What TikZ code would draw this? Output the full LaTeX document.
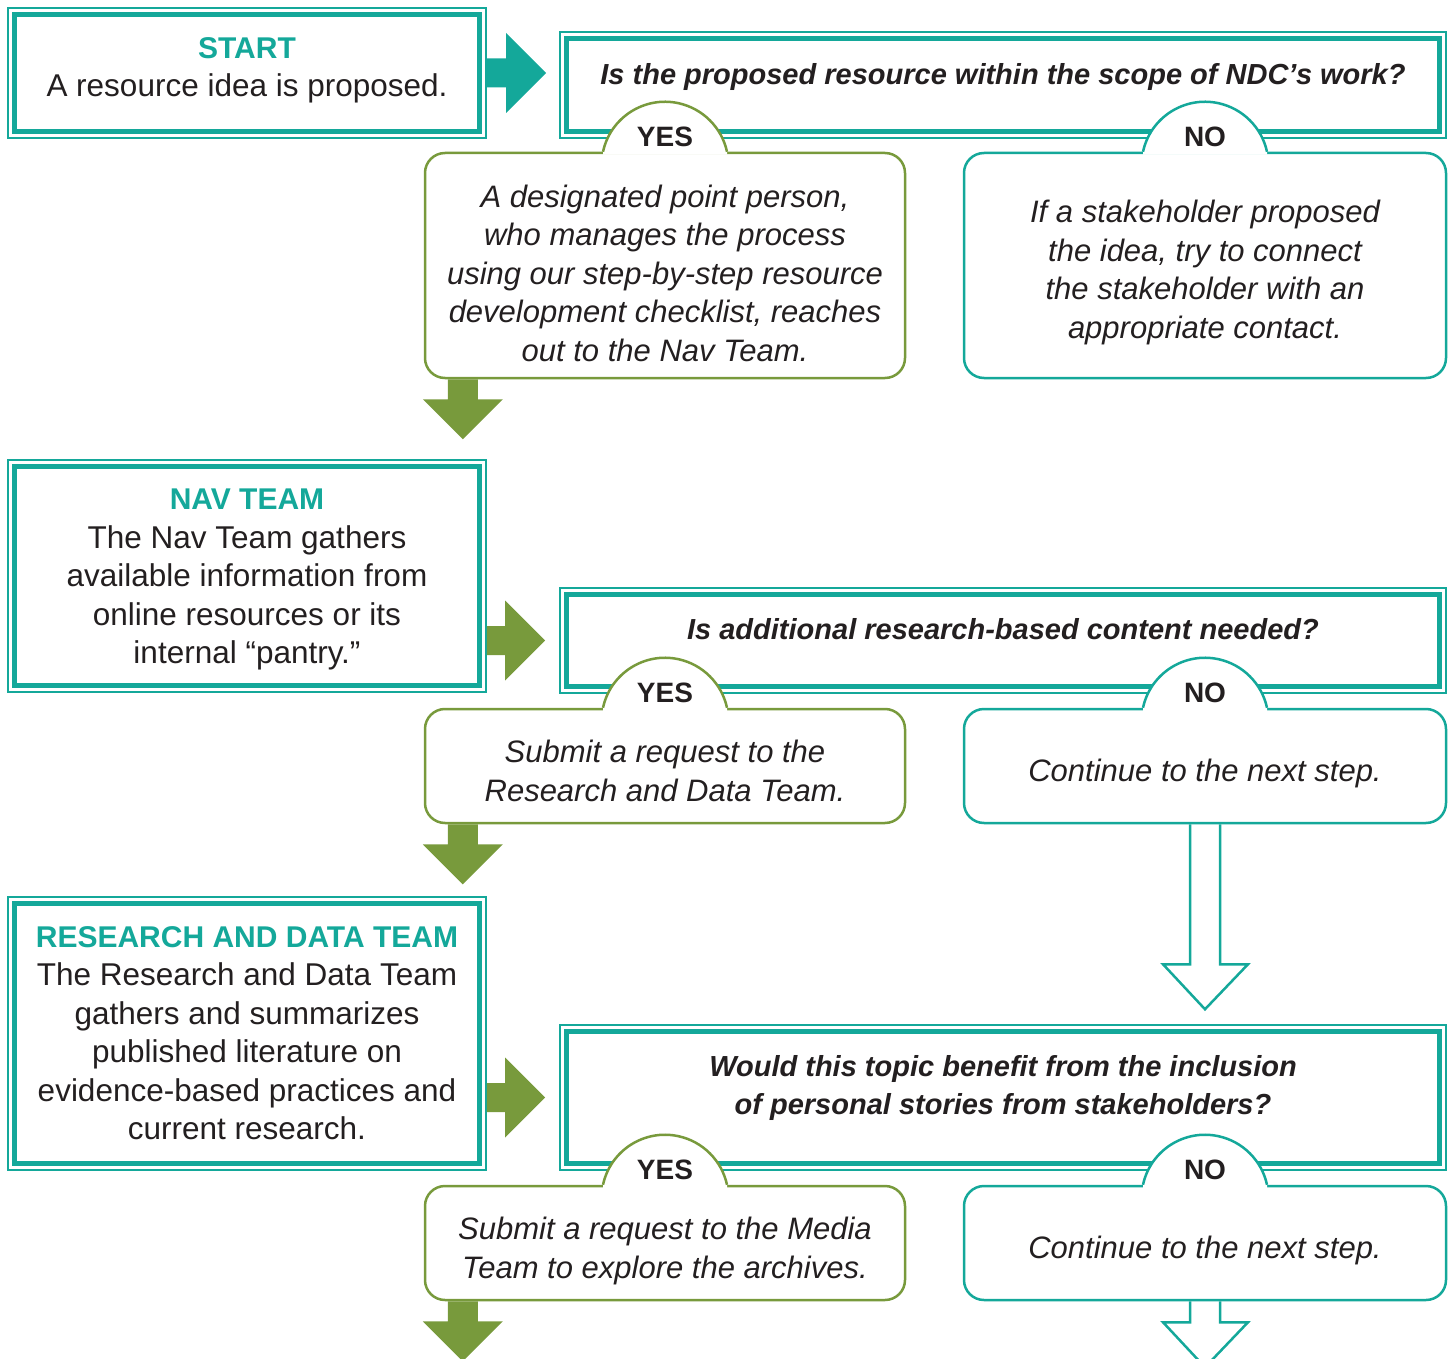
\documentclass[tikz,border=0pt]{standalone}
\usepackage{fontspec}
\setmainfont{Liberation Sans}
\usetikzlibrary{calc}
\definecolor{tl}{RGB}{20,168,154}
\definecolor{gr}{RGB}{120,154,60}
\definecolor{tx}{RGB}{35,31,32}
\newcommand\innerframe[1]{\draw[tl,line width=5pt] ($(#1.north west)+(7,7)$) rectangle ($(#1.south east)+(-7,-7)$);}
\newcommand\hump[4]{%
  \fill[white] ($(#1.north)+(-62,3)$) -- ($(#1.north)+(-62,0)$) arc[start angle=167.77,end angle=12.23,radius=63.44pt] -- ($(#1.north)+(62,3)$) -- cycle;
  \draw[#2,line width=2.5pt] ($(#1.north)+(-62,0)$) arc[start angle=167.77,end angle=12.23,radius=63.44pt];
  \node[lab] (#4) at ($(#1.north)+(0,-15)$) {#3};}
\newcommand\rarrow[3]{\fill[#1] ($(#2)+(0,-14.5)$) -- ($(#3)+(-40,-14.5)$) -- ($(#3)+(-40,-40)$) -- (#3) -- ($(#3)+(-40,40)$) -- ($(#3)+(-40,14.5)$) -- ($(#2)+(0,14.5)$) -- cycle;}
\newcommand\darrow[1]{\fill[gr] ($(#1)+(-15,0)$) -- ($(#1)+(-15,20)$) -- ($(#1)+(-40,20)$) -- ($(#1)+(0,60)$) -- ($(#1)+(40,20)$) -- ($(#1)+(15,20)$) -- ($(#1)+(15,0)$) -- cycle;}
\newcommand\harrow[2]{\draw[tl,line width=2.5pt,line join=miter] ($(#1)+(-15,0)$) -- ($(#1)+(-15,#2)$) -- ($(#1)+(-42,#2)$) -- ($(#1)+(0,#2+45)$) -- ($(#1)+(43,#2)$) -- ($(#1)+(15,#2)$) -- ($(#1)+(15,0)$);}
\begin{document}
\begin{tikzpicture}[x=1pt,y=-1pt,
  dbox/.style={draw=tl,line width=1.8pt,inner sep=0pt,fill=white},
  ybox/.style={draw=gr,line width=2.5pt,rounded corners=20pt,fill=white,inner sep=0pt},
  nbox/.style={draw=tl,line width=2.5pt,rounded corners=20pt,fill=white,inner sep=0pt},
  txt/.style={align=center,text=tx,inner sep=0pt,font=\fontsize{31.5}{38.5}\selectfont},
  itx/.style={txt,font=\fontsize{31}{38.5}\selectfont\itshape},
  qtx/.style={txt,font=\fontsize{29}{38.5}\selectfont\bfseries\itshape},
  lab/.style={text=tx,inner sep=0pt,font=\fontsize{28}{30}\selectfont\bfseries}]
\clip (0,0) rectangle (1452,1359);
\useasboundingbox (0,0) rectangle (1452,1359);
% boxes
\node[dbox,minimum width=478pt,minimum height=130pt] (start) at (247,73) {};
\innerframe{start}
\node[dbox,minimum width=886pt,minimum height=106pt] (q1) at (1003,85) {};
\innerframe{q1}
\node[ybox,minimum width=480pt,minimum height=225pt] (yes1) at (665,265.5) {};
\node[nbox,minimum width=482pt,minimum height=225pt] (no1) at (1205,265.5) {};
\node[dbox,minimum width=478pt,minimum height=232pt] (nav) at (247,576) {};
\innerframe{nav}
\node[dbox,minimum width=886pt,minimum height=105pt] (q2) at (1003,640.5) {};
\innerframe{q2}
\node[ybox,minimum width=480pt,minimum height=114pt] (yes2) at (665,766) {};
\node[nbox,minimum width=482pt,minimum height=114pt] (no2) at (1205,766) {};
\node[dbox,minimum width=478pt,minimum height=273pt] (res) at (247,1033.5) {};
\innerframe{res}
\node[dbox,minimum width=886pt,minimum height=145pt] (q3) at (1003,1097.5) {};
\innerframe{q3}
\node[ybox,minimum width=480pt,minimum height=114pt] (yes3) at (665,1243) {};
\node[nbox,minimum width=482pt,minimum height=114pt] (no3) at (1205,1243) {};
% tabs
\hump{yes1}{gr}{YES}{y1l}
\hump{no1}{tl}{NO}{n1l}
\hump{yes2}{gr}{YES}{y2l}
\hump{no2}{tl}{NO}{n2l}
\hump{yes3}{gr}{YES}{y3l}
\hump{no3}{tl}{NO}{n3l}
% right arrows
\coordinate (a1s) at (486,73);
\coordinate (a1t) at (546,73);
\rarrow{tl}{a1s}{a1t}
\coordinate (a2s) at (q2.west -| nav.east);
\coordinate (a2t) at ($(q2.west)+(-14,0)$);
\rarrow{gr}{a2s}{a2t}
\coordinate (a3s) at (q3.west -| res.east);
\coordinate (a3t) at ($(q3.west)+(-14,0)$);
\rarrow{gr}{a3s}{a3t}
% down arrows
\coordinate (d1) at ($(yes1.south west)+(39,0)$);
\darrow{d1}
\coordinate (d2) at ($(yes2.south west)+(39,0)$);
\darrow{d2}
\coordinate (d3) at ($(yes3.south west)+(39,0)$);
\darrow{d3}
\harrow{no2.south}{140}
\harrow{no3.south}{21}
% texts
\node[txt] (tstart) at (247,70.5) {\textcolor{tl}{\fontsize{30}{38.5}\selectfont\bfseries START}\\A resource idea is proposed.};
\node[qtx] (tq1) at (1003,77) {Is the proposed resource within the scope of NDC’s work?};
\node[itx] (tyes1) at (665,273) {A designated point person,\\who manages the process\\using our step-by-step resource\\development checklist, reaches\\out to the Nav Team.};
\node[itx] (tno1) at (1205,272.5) {If a stakeholder proposed\\the idea, try to connect\\the stakeholder with an\\appropriate contact.};
\node[txt] (tnav) at (247,579.5) {\textcolor{tl}{\fontsize{30}{38.5}\selectfont\bfseries NAV TEAM}\\The Nav Team gathers\\available information from\\online resources or its\\internal “pantry.”};
\node[qtx] (tq2) at (1003,629) {Is additional research-based content needed?};
\node[itx] (tyes2) at (665,771) {Submit a request to the\\Research and Data Team.};
\node[itx] (tno2) at (1205,773) {Continue to the next step.};
\node[txt] (tres) at (247,1033) {\textcolor{tl}{\fontsize{30}{38.5}\selectfont\bfseries RESEARCH AND DATA TEAM}\\The Research and Data Team\\gathers and summarizes\\published literature on\\evidence-based practices and\\current research.};
\node[qtx] (tq3) at (1003,1088) {Would this topic benefit from the inclusion\\of personal stories from stakeholders?};
\node[itx] (tyes3) at (665,1251) {Submit a request to the Media\\Team to explore the archives.};
\node[itx] (tno3) at (1205,1250) {Continue to the next step.};
\end{tikzpicture}
\end{document}
